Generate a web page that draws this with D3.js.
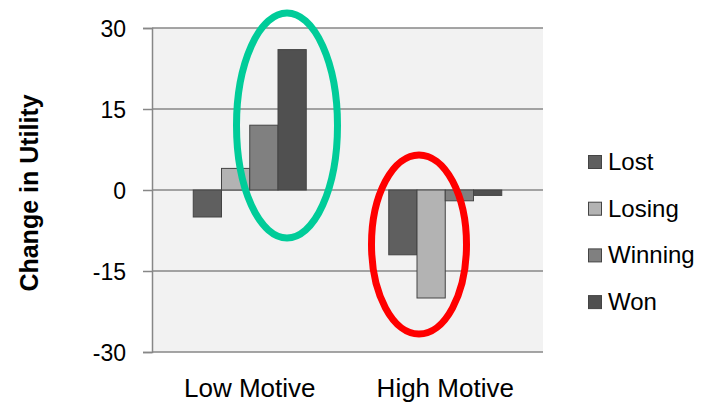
<!DOCTYPE html>
<html>
<head>
<meta charset="utf-8">
<script src="https://cdn.jsdelivr.net/npm/d3@7"></script>
<style>
  html, body { margin: 0; padding: 0; background: #ffffff; }
  svg { display: block; font-family: "Liberation Sans", Arial, sans-serif; }
</style>
</head>
<body>
<svg id="chart" width="705" height="404"></svg>
<script>
// ---- data ----
const categories = ["Low Motive", "High Motive"];
const seriesNames = ["Lost", "Losing", "Winning", "Won"];
const lostValues = [-5, -12];
const losingValues = [4, -20];
const winningValues = [12, -2];
const wonValues = [26, -1];
const yTicks = [-30, -15, 0, 15, 30];
const yTickLabels = ["-30", "-15", "0", "15", "30"];
const seriesColors = ["#5f5f5f", "#b3b3b3", "#808080", "#505050"];
const highlightColors = ["#00cc99", "#ff0000"];

const seriesValues = [lostValues, losingValues, winningValues, wonValues];

// ---- layout ----
const svg = d3.select("#chart");
const plotLeft = 152, plotRight = 543, plotTop = 28, plotBottom = 352;

const y = d3.scaleLinear().domain([-30, 30]).range([plotBottom, plotTop]);
const x0 = d3.scaleBand().domain(categories).range([plotLeft, plotRight]).padding(0);
const groupW = 113;
const x1 = d3.scaleBand().domain(seriesNames).range([0, groupW]).padding(0);
const groupOffset = (x0.bandwidth() - groupW) / 2;

// plot background
svg.append("rect")
  .attr("x", plotLeft).attr("y", plotTop)
  .attr("width", plotRight - plotLeft).attr("height", plotBottom - plotTop)
  .attr("fill", "#f2f2f2");

// gridlines
svg.append("g").selectAll("line").data(yTicks).join("line")
  .attr("x1", plotLeft).attr("x2", plotRight)
  .attr("y1", d => y(d)).attr("y2", d => y(d))
  .attr("stroke", "#878787").attr("stroke-width", 1.5);

// y axis
const yAxis = d3.axisLeft(y).tickValues(yTicks).tickSize(9).tickPadding(17)
  .tickFormat((d, i) => yTickLabels[i]);
const yg = svg.append("g").attr("transform", `translate(${plotLeft},0)`).call(yAxis);
yg.select(".domain").attr("stroke", "#878787").attr("stroke-width", 1.5);
yg.selectAll(".tick line").attr("stroke", "#878787").attr("stroke-width", 1.5);
yg.selectAll(".tick text")
  .attr("font-size", 23).attr("fill", "#000")
  .attr("font-family", "Liberation Sans, Arial, sans-serif")
  .attr("dy", "0.36em");

// axis title
svg.append("text")
  .attr("transform", `translate(38,193) rotate(-90)`)
  .attr("text-anchor", "middle")
  .attr("font-size", 25).attr("font-weight", "bold").attr("fill", "#000")
  .text("Change in Utility");

// category labels
svg.append("g").selectAll("text").data(categories).join("text")
  .attr("x", d => x0(d) + x0.bandwidth() / 2)
  .attr("y", 397)
  .attr("text-anchor", "middle")
  .attr("font-size", 26).attr("fill", "#000")
  .text(d => d);

// bars
const barData = [];
categories.forEach((c, ci) => {
  seriesNames.forEach((s, si) => {
    barData.push({ cat: c, series: s, si, value: seriesValues[si][ci] });
  });
});
svg.append("g").selectAll("rect").data(barData).join("rect")
  .attr("x", d => x0(d.cat) + groupOffset + x1(d.series))
  .attr("width", x1.bandwidth())
  .attr("y", d => y(Math.max(0, d.value)))
  .attr("height", d => Math.abs(y(d.value) - y(0)))
  .attr("fill", d => seriesColors[d.si])
  .attr("stroke", "#444")
  .attr("stroke-width", 1);

// highlight ellipses
const ellipses = [
  { cx: 287, cy: 125.5, rx: 50.5, ry: 112.5, color: highlightColors[0] },
  { cx: 419, cy: 244.5, rx: 47.5, ry: 89.5, color: highlightColors[1] }
];
svg.append("g").selectAll("ellipse").data(ellipses).join("ellipse")
  .attr("cx", d => d.cx).attr("cy", d => d.cy)
  .attr("rx", d => d.rx).attr("ry", d => d.ry)
  .attr("fill", "none")
  .attr("stroke", d => d.color)
  .attr("stroke-width", 7);

// legend
const legend = svg.append("g").attr("transform", "translate(588,155)");
const item = legend.selectAll("g").data(seriesNames).join("g")
  .attr("transform", (d, i) => `translate(0,${i * 46.7})`);
item.append("rect")
  .attr("x", 0.5).attr("y", 0.5).attr("width", 13).attr("height", 13)
  .attr("fill", (d, i) => seriesColors[i])
  .attr("stroke", "#444").attr("stroke-width", 1);
item.append("text")
  .attr("x", 20).attr("y", 15)
  .attr("font-size", 24).attr("fill", "#000")
  .text(d => d);
</script>
</body>
</html>
